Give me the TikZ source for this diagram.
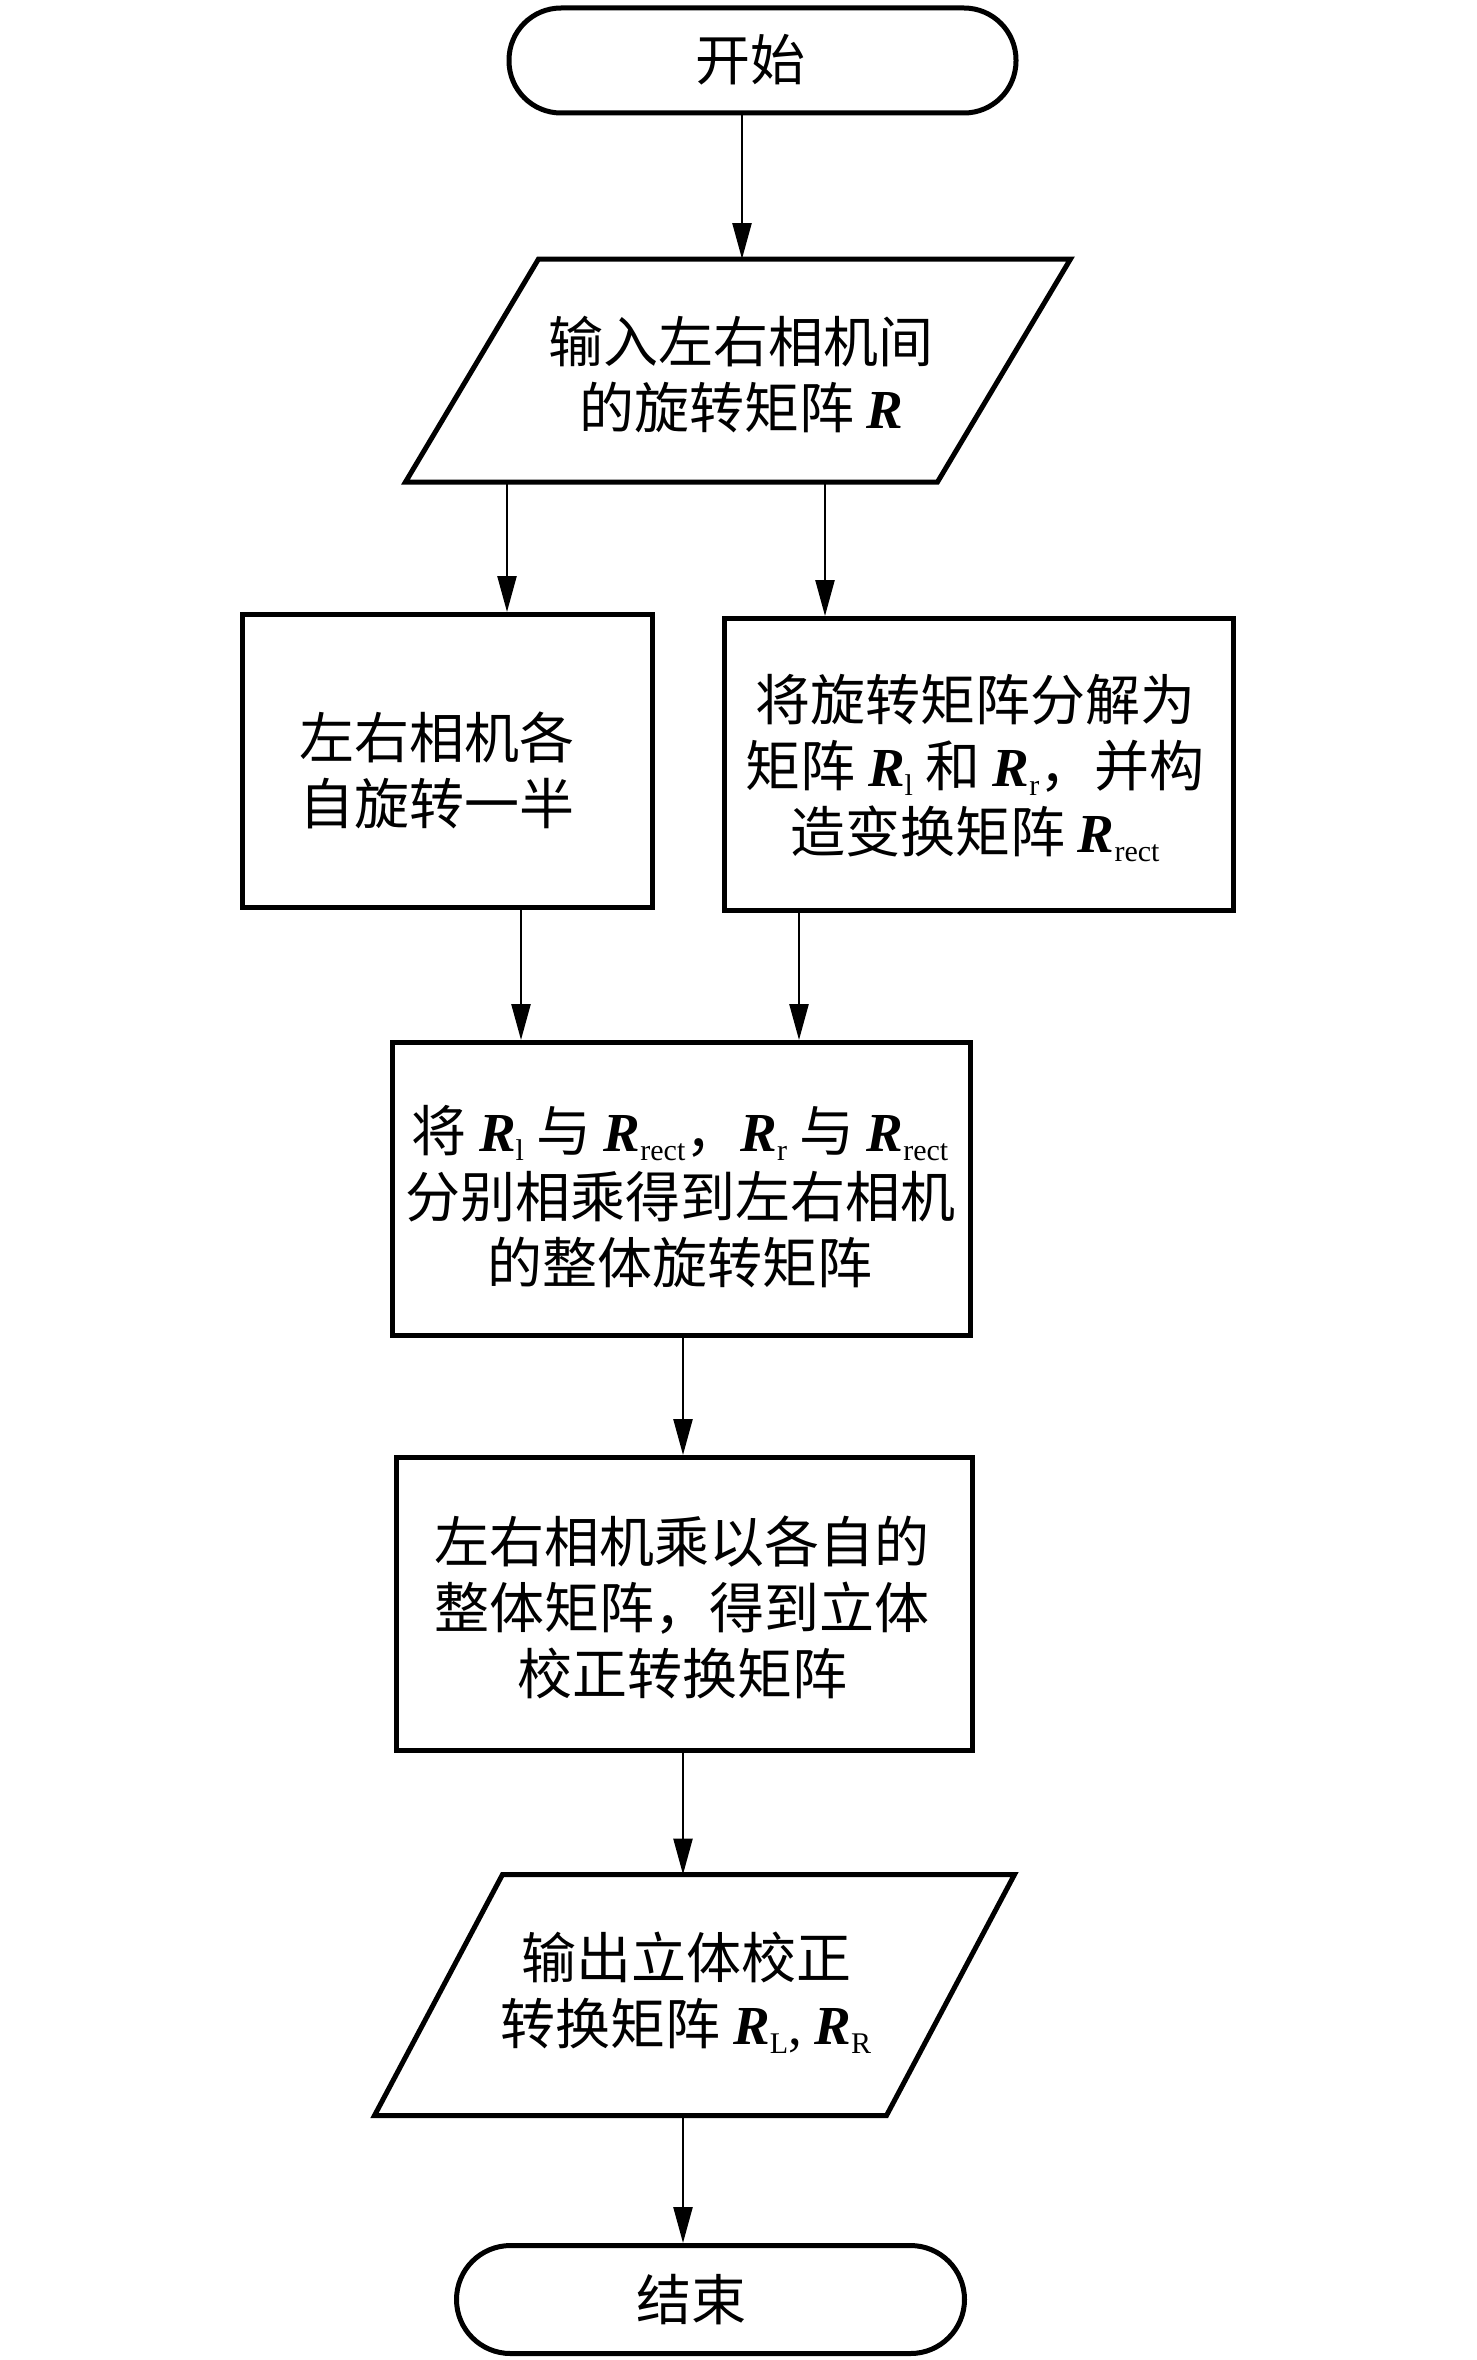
\documentclass[tikz,border=0pt]{standalone}
\usepackage{fontspec}
\setmainfont{Noto Sans CJK SC}
\newfontfamily\lat{Liberation Serif}
\usetikzlibrary{arrows.meta,calc}
\newcommand\Rb{{\lat\bfseries\itshape R}}
\newcommand\RR[1]{\Rb\raisebox{-9pt}{\fontsize{30}{30}\selectfont\lat #1}}
\tikzset{
  outline/.style={draw=black, line width=5pt},
  shp/.style={outline, inner sep=0pt},
  ghost/.style={inner sep=0pt, outer sep=0pt},
  txt/.style={align=center, font=\fontsize{55}{66}\selectfont, inner sep=0pt},
  arr/.style={line width=2.5pt, -{Triangle[length=36pt,width=19pt]}},
}
\begin{document}
\begin{tikzpicture}[x=1pt,y=1pt]
\useasboundingbox[fill=white] (0,0) rectangle (1476,-2360);

% shapes
\node[shp, rounded corners=52pt, minimum width=507pt, minimum height=105pt] (start) at (762.5,-60.5) {};
\node[ghost, minimum width=665pt, minimum height=223pt] (p1) at (738,-370.5) {};
\draw[outline] ($(p1.north west)+(133,0)$) -- (p1.north east) -- ($(p1.south east)+(-133,0)$) -- (p1.south west) -- cycle;
\node[shp, minimum width=410pt, minimum height=293pt] (lbox) at (447.5,-761) {};
\node[shp, minimum width=509pt, minimum height=292pt] (rbox) at (979,-764.5) {};
\node[shp, minimum width=578pt, minimum height=293pt] (mbox) at (681.5,-1189) {};
\node[shp, minimum width=576pt, minimum height=293pt] (box4) at (684.5,-1604) {};
\node[ghost, minimum width=640pt, minimum height=241pt] (p2) at (694.5,-1995) {};
\draw[outline] ($(p2.north west)+(128,0)$) -- (p2.north east) -- ($(p2.south east)+(-128,0)$) -- (p2.south west) -- cycle;
\node[shp, rounded corners=54pt, minimum width=508pt, minimum height=108pt] (end) at (710.5,-2299.5) {};

% texts
\node[txt] (tstart) at (750,-60) {开始};
\node[txt] (t1) at (741,-375) {输入左右相机间\\的旋转矩阵 \Rb};
\node[txt] (tl) at (437,-770) {左右相机各\\自旋转一半};
\node[txt] (tr) at (975,-768) {将旋转矩阵分解为\\矩阵 \RR{l} 和 \RR{r}，并构\\造变换矩阵 \RR{rect}};
\node[txt] (tm) at (680,-1197) {将 \RR{l} 与 \RR{rect}，\RR{r} 与 \RR{rect}\\分别相乘得到左右相机\\的整体旋转矩阵};
\node[txt] (t4) at (682,-1607) {左右相机乘以各自的\\整体矩阵，得到立体\\校正转换矩阵};
\node[txt] (t5) at (686,-1993) {输出立体校正\\转换矩阵 \RR{L}{\lat ,} \RR{R}};
\node[txt] (tend) at (691,-2300) {结束};

% connector columns
\coordinate (xa) at (742,0);
\coordinate (xb) at (507,0);
\coordinate (xc) at (825,0);
\coordinate (xd) at (521,0);
\coordinate (xe) at (799,0);
\coordinate (xf) at (683,0);

% connectors
\draw[arr] (start.south -| xa) -- (p1.north -| xa);
\draw[arr] (p1.south -| xb) -- (lbox.north -| xb);
\draw[arr] (p1.south -| xc) -- (rbox.north -| xc);
\draw[arr] (lbox.south -| xd) -- (mbox.north -| xd);
\draw[arr] (rbox.south -| xe) -- (mbox.north -| xe);
\draw[arr] (mbox.south -| xf) -- (box4.north -| xf);
\draw[arr] (box4.south -| xf) -- (p2.north -| xf);
\draw[arr] (p2.south -| xf) -- (end.north -| xf);
\end{tikzpicture}
\end{document}
